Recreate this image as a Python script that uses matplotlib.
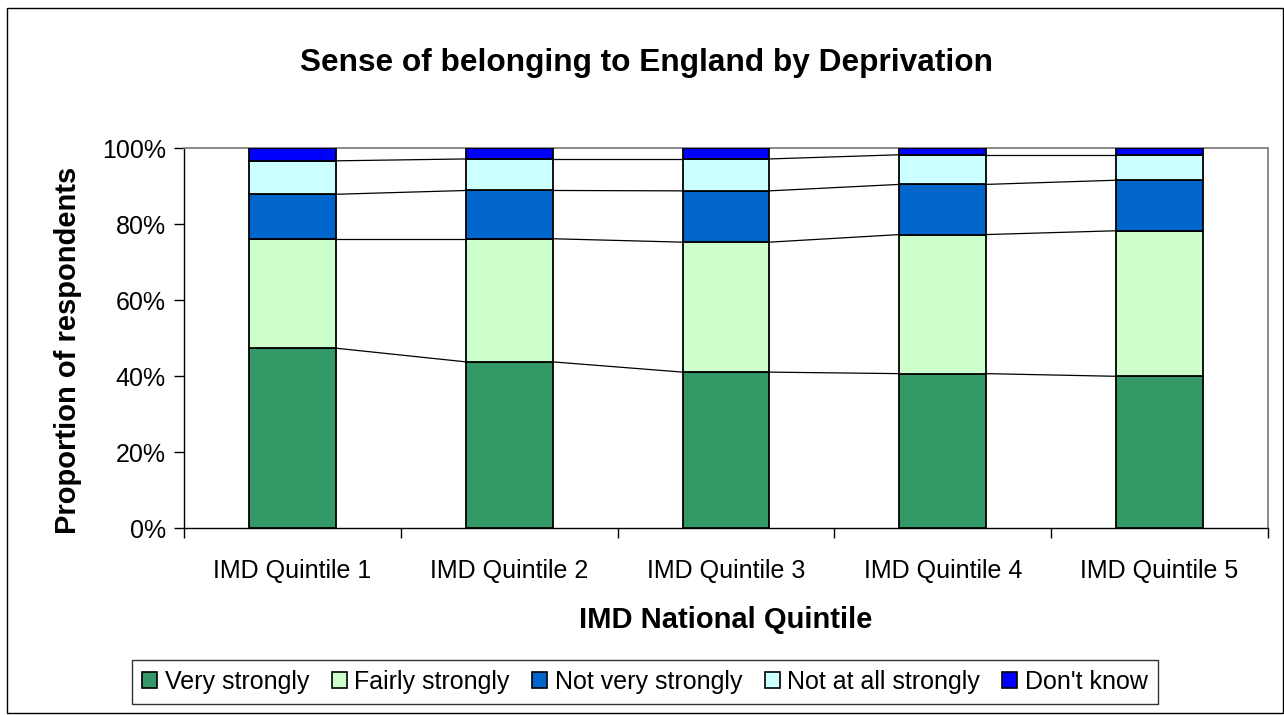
import numpy as np
import matplotlib.pyplot as plt
from matplotlib.patches import Rectangle, Patch
from matplotlib.ticker import PercentFormatter

plt.rcParams['font.family'] = ['Liberation Sans', 'DejaVu Sans']

# data (percent of respondents)
quintiles = ['IMD Quintile 1', 'IMD Quintile 2', 'IMD Quintile 3',
             'IMD Quintile 4', 'IMD Quintile 5']
very_strongly = [47.4, 43.8, 41.1, 40.7, 40.0]
fairly_strongly = [28.8, 32.4, 34.2, 36.6, 38.3]
not_very_strongly = [11.7, 12.7, 13.5, 13.2, 13.3]
not_at_all_strongly = [8.8, 8.3, 8.4, 7.8, 6.7]
dont_know = [3.3, 2.8, 2.8, 1.7, 1.7]

series_names = ['Very strongly', 'Fairly strongly', 'Not very strongly',
                'Not at all strongly', "Don't know"]
series_colors = ['#339966', '#CCFFCC', '#0066CC', '#CCFFFF', '#0000FF']

fig = plt.figure(figsize=(12.84, 7.15), dpi=100)
ax = fig.add_axes([184 / 1284, 186.7 / 715, 1084 / 1284, 380 / 715])

x = np.arange(len(quintiles))
width = 0.40
bottom = np.zeros(len(quintiles))
for name, vals, col in zip(series_names,
                           [very_strongly, fairly_strongly, not_very_strongly,
                            not_at_all_strongly, dont_know],
                           series_colors):
    vals = np.array(vals)
    ax.bar(x, vals, width, bottom=bottom, color=col, edgecolor='black',
           linewidth=1.3, label=name, zorder=3)
    bottom = bottom + vals
    # series lines between bars
    if name != "Don't know":
        for i in range(len(x) - 1):
            ax.plot([x[i] + width / 2, x[i + 1] - width / 2],
                    [bottom[i], bottom[i + 1]], color='black', lw=0.9, zorder=2)

ax.set_xlim(-0.5, len(quintiles) - 0.5)
ax.set_ylim(0, 100)
ax.set_yticks(np.arange(0, 101, 20))
ax.yaxis.set_major_formatter(PercentFormatter(decimals=0))
ax.set_xticks(x)
ax.set_xticklabels(quintiles)
ax.set_xticks(np.arange(-0.5, len(quintiles), 1), minor=True)
ax.tick_params(axis='x', which='major', length=0, pad=22, labelsize=18)
ax.tick_params(axis='x', which='minor', length=7, width=1)
ax.tick_params(axis='y', length=7, width=1, pad=6, labelsize=18)

for side in ['top', 'right']:
    ax.spines[side].set_color('#808080')
    ax.spines[side].set_linewidth(1.3)
ax.spines['left'].set_linewidth(1)
ax.spines['bottom'].set_linewidth(1)

fig.text(646 / 1284, 1 - 63 / 715, 'Sense of belonging to England by Deprivation',
         ha='center', va='center', fontsize=22.8, fontweight='bold')
fig.text(726 / 1284, 1 - 620 / 715, 'IMD National Quintile',
         ha='center', va='center', fontsize=21, fontweight='bold')
fig.text(68 / 1284, 1 - 350 / 715, 'Proportion of respondents',
         ha='center', va='center', rotation=90, fontsize=21, fontweight='bold')

handles = [Patch(facecolor=c, edgecolor='black', linewidth=1.2)
           for c in series_colors]
leg = fig.legend(handles, series_names, loc='center',
                 bbox_to_anchor=(645 / 1284, 1 - 682 / 715), ncol=5,
                 fontsize=18, frameon=True, fancybox=False, edgecolor='black',
                 handlelength=0.6, handleheight=0.6, handletextpad=0.3,
                 columnspacing=0.9, borderpad=0.4)
leg.get_frame().set_linewidth(1)

# outer chart border
fig.patches.append(Rectangle((7 / 1284, 2 / 715), 1276 / 1284, 705 / 715,
                             transform=fig.transFigure, fill=False,
                             edgecolor='black', linewidth=1))

fig.savefig('out.png', dpi=100)
